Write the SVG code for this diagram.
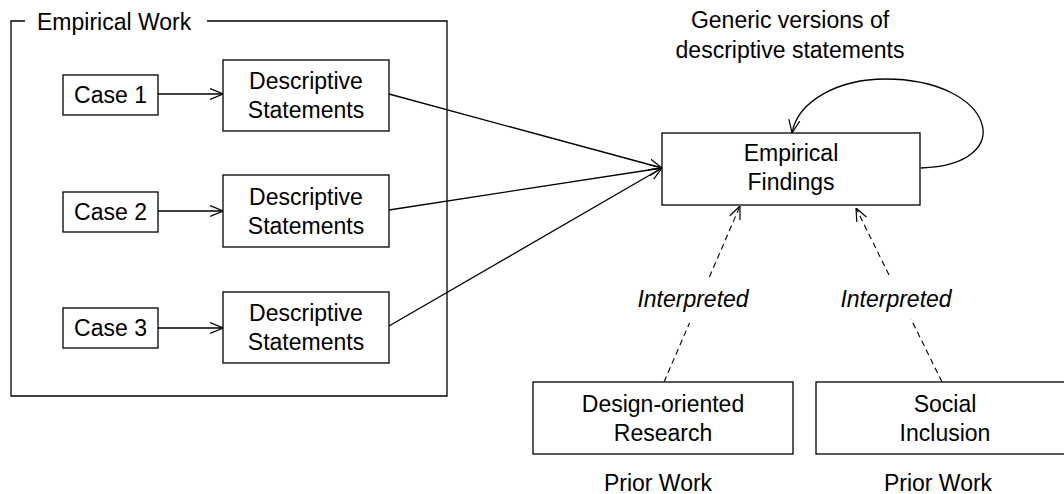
<svg xmlns="http://www.w3.org/2000/svg" width="1064" height="494" viewBox="0 0 1064 494">
  <style>
    .box { fill: #ffffff; stroke: #000000; stroke-width: 1.3; }
    .lbl { font-family: "Liberation Sans", Arial, sans-serif; font-size: 23px; fill: #000000; text-anchor: middle; }
    .lbl-start { font-family: "Liberation Sans", Arial, sans-serif; font-size: 23px; fill: #000000; }
    .it { font-style: italic; }
    .edge { fill: none; stroke: #000000; stroke-width: 1.3; }
    .dash { fill: none; stroke: #000000; stroke-width: 1.1; stroke-dasharray: 6 4; }
  </style>
  <defs>
    <marker id="open" viewBox="0 0 13 13" refX="13" refY="6.5" markerWidth="13" markerHeight="13" markerUnits="userSpaceOnUse" orient="auto">
      <path d="M0,1 L13,6.5 L0,12" fill="none" stroke="#000000" stroke-width="1.2"/>
    </marker>
  </defs>

  <rect width="1064" height="494" fill="#ffffff"/>

  <!-- Empirical Work frame with title break in the top edge -->
  <g id="empirical-work">
    <path class="edge" d="M25,21 L11,21 L11,396 L447,396 L447,21 L207,21"/>
    <text class="lbl-start" x="37" y="30">Empirical Work</text>
  </g>

  <!-- Cases -->
  <g id="case1">
    <rect class="box" x="63" y="75" width="95" height="40"/>
    <text class="lbl" x="110.5" y="103">Case 1</text>
  </g>
  <g id="case2">
    <rect class="box" x="63" y="192" width="95" height="40"/>
    <text class="lbl" x="110.5" y="220">Case 2</text>
  </g>
  <g id="case3">
    <rect class="box" x="63" y="308" width="95" height="40"/>
    <text class="lbl" x="110.5" y="336">Case 3</text>
  </g>

  <!-- Descriptive statements -->
  <g id="desc1">
    <rect class="box" x="223" y="60" width="166" height="71"/>
    <text class="lbl" x="306" y="89">Descriptive</text>
    <text class="lbl" x="306" y="118">Statements</text>
  </g>
  <g id="desc2">
    <rect class="box" x="223" y="175" width="166" height="72"/>
    <text class="lbl" x="306" y="205">Descriptive</text>
    <text class="lbl" x="306" y="234">Statements</text>
  </g>
  <g id="desc3">
    <rect class="box" x="223" y="292" width="166" height="71"/>
    <text class="lbl" x="306" y="321">Descriptive</text>
    <text class="lbl" x="306" y="350">Statements</text>
  </g>

  <!-- Findings -->
  <g id="findings">
    <rect class="box" x="662" y="133" width="258" height="72"/>
    <text class="lbl" x="791" y="161">Empirical</text>
    <text class="lbl" x="791" y="190">Findings</text>
  </g>

  <g id="generic-note">
    <text class="lbl" x="790" y="28">Generic versions of</text>
    <text class="lbl" x="790" y="58">descriptive statements</text>
  </g>

  <!-- Prior work sources -->
  <g id="design-research">
    <rect class="box" x="533" y="382" width="260" height="72"/>
    <text class="lbl" x="663" y="412">Design-oriented</text>
    <text class="lbl" x="663" y="441">Research</text>
    <text class="lbl" x="658" y="491">Prior Work</text>
  </g>
  <g id="social-inclusion">
    <rect class="box" x="816" y="382" width="258" height="72"/>
    <text class="lbl" x="945" y="412">Social</text>
    <text class="lbl" x="945" y="441">Inclusion</text>
    <text class="lbl" x="938" y="491">Prior Work</text>
  </g>

  <!-- Connectors -->
  <g id="connectors">
    <line class="edge" x1="158" y1="94" x2="223" y2="94" marker-end="url(#open)"/>
    <line class="edge" x1="158" y1="211" x2="223" y2="211" marker-end="url(#open)"/>
    <line class="edge" x1="158" y1="328" x2="223" y2="328" marker-end="url(#open)"/>

    <line class="edge" x1="389" y1="94" x2="662" y2="168" marker-end="url(#open)"/>
    <line class="edge" x1="389" y1="210" x2="662" y2="168" marker-end="url(#open)"/>
    <line class="edge" x1="389" y1="326" x2="662" y2="168" marker-end="url(#open)"/>

    <!-- self loop on the findings box -->
    <path class="edge" d="M921,168 C1020,165 995,79 885,79 C840,79 798,100 792,133" marker-end="url(#open)"/>

    <!-- interpretation links, broken around their labels -->
    <line class="dash" x1="664" y1="382" x2="689.5" y2="323"/>
    <line class="dash" x1="709.4" y1="277" x2="740" y2="206" marker-end="url(#open)"/>
    <text class="lbl it" x="693" y="307">Interpreted</text>

    <line class="dash" x1="942" y1="382" x2="911" y2="319"/>
    <line class="dash" x1="889" y1="275" x2="856" y2="208" marker-end="url(#open)"/>
    <text class="lbl it" x="896" y="307">Interpreted</text>
  </g>
</svg>
